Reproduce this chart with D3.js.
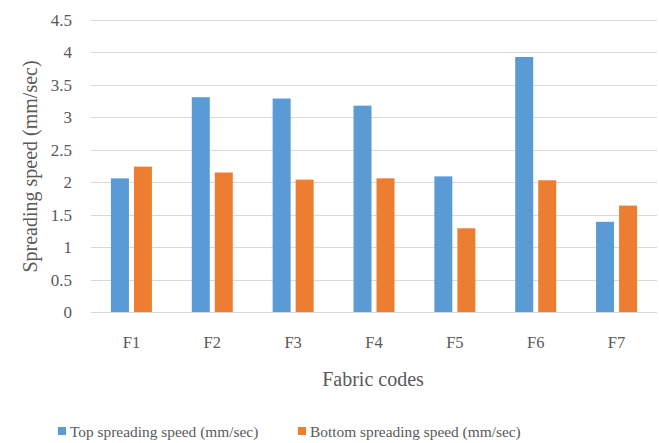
<!DOCTYPE html>
<html>
<head>
<meta charset="utf-8">
<script src="https://cdn.jsdelivr.net/npm/d3@7"></script>
<style>
  html, body { margin: 0; padding: 0; background: #fff; }
</style>
</head>
<body>
<svg id="chart" width="659" height="443"></svg>
<script>
// Fabric codes and measured spreading speeds (mm/sec)
const categories = ["F1", "F2", "F3", "F4", "F5", "F6", "F7"];
const topSpeed = [2.06, 3.31, 3.29, 3.18, 2.09, 3.93, 1.39];
const bottomSpeed = [2.24, 2.15, 2.04, 2.06, 1.29, 2.03, 1.64];
const seriesNames = ["Top spreading speed (mm/sec)", "Bottom spreading speed (mm/sec)"];
const yTicks = [0, 0.5, 1, 1.5, 2, 2.5, 3, 3.5, 4, 4.5];

const colors = ["#5b9bd5", "#ed7d31"];
const series = [topSpeed, bottomSpeed];
const FONT = "'Liberation Serif'";
const TEXT = "#595959";

const svg = d3.select("#chart");
const margin = { left: 91, right: 2, top: 20, bottom: 131 };
const W = 659, H = 443;
const plotW = W - margin.left - margin.right;
const plotH = H - margin.top - margin.bottom;

const g = svg.append("g").attr("transform", `translate(${margin.left},${margin.top})`);

const x = d3.scaleBand().domain(categories).range([0, plotW]).paddingInner(0).paddingOuter(0);
const y = d3.scaleLinear().domain([0, 4.5]).range([plotH, 0]);

// horizontal gridlines
g.selectAll("line.grid").data(yTicks).join("line")
  .attr("class", "grid")
  .attr("x1", 0).attr("x2", plotW)
  .attr("y1", d => Math.round(y(d)) + 0.5).attr("y2", d => Math.round(y(d)) + 0.5)
  .attr("stroke", "#d9d9d9").attr("stroke-width", 1);

// y tick labels
const yAxis = d3.axisLeft(y).tickValues(yTicks).tickSize(0).tickPadding(19).tickFormat(d3.format("~g"));
const ya = g.append("g").call(yAxis);
ya.attr("font-family", null).attr("font-size", null);
ya.select(".domain").remove();
ya.selectAll("text").attr("fill", TEXT)
  .style("font-family", FONT).style("font-size", "17px");

// bars
const barW = 18, gap = 5;
series.forEach((vals, si) => {
  const offset = si === 0 ? -(gap / 2 + barW) : gap / 2;
  g.selectAll(`rect.s${si}`).data(vals).join("rect")
    .attr("class", `s${si}`)
    .attr("x", (d, i) => x(categories[i]) + x.bandwidth() / 2 + offset)
    .attr("width", barW)
    .attr("y", d => y(d))
    .attr("height", d => y(0) - y(d))
    .attr("fill", colors[si]);
});

// x tick labels
const xAxis = d3.axisBottom(x).tickSize(0).tickPadding(24);
const xa = g.append("g").attr("transform", `translate(0,${plotH})`).call(xAxis);
xa.attr("font-family", null).attr("font-size", null);
xa.select(".domain").remove();
xa.selectAll("text").attr("fill", TEXT)
  .style("font-family", FONT).style("font-size", "16.5px");

// axis titles
svg.append("text")
  .attr("x", 373).attr("y", 386)
  .attr("text-anchor", "middle")
  .attr("fill", TEXT)
  .style("font-family", FONT).style("font-size", "20px")
  .text("Fabric codes");

svg.append("text")
  .attr("transform", "translate(37,166.5) rotate(-90)")
  .attr("text-anchor", "middle")
  .attr("fill", TEXT)
  .style("font-family", FONT).style("font-size", "20px")
  .text("Spreading speed (mm/sec)");

// legend
const legendX = [58, 298];
seriesNames.forEach((name, i) => {
  const lg = svg.append("g").attr("transform", `translate(${legendX[i]},427)`);
  lg.append("rect").attr("width", 8).attr("height", 8).attr("fill", colors[i]);
  lg.append("text").attr("x", 12).attr("y", 10)
    .attr("fill", TEXT)
    .style("font-family", FONT).style("font-size", "15.4px")
    .text(name);
});
</script>
</body>
</html>
